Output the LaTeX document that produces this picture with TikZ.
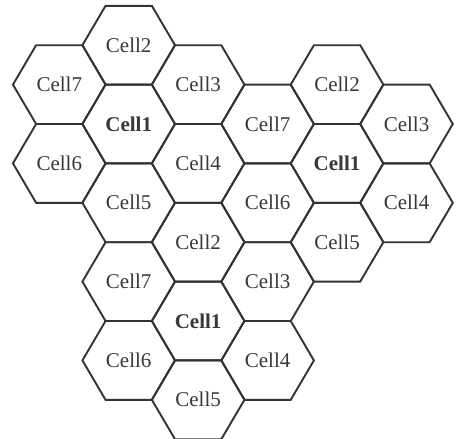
\documentclass[tikz,border=0pt]{standalone}
\usepackage{fontspec}
\setmainfont{Liberation Serif}
\begin{document}
\begin{tikzpicture}[x=1pt,y=-1pt]
\tikzset{
  hexline/.style={draw=black!80, line width=1.9pt, line join=miter},
  lbl/.style={font=\fontsize{21}{24}\selectfont, text=black!78, inner sep=0pt},
  lblb/.style={lbl, font=\fontsize{21}{24}\selectfont\bfseries}
}
\newcommand\hexcell[5]{%
  \node[#5] (#1) at ({128.7+69.45*#2},{124+39.4*#3}) {#4};
  \draw[hexline] (#1.center) ++(46.3,0) -- ++(-23.15,39.4) -- ++(-46.3,0)
     -- ++(-23.15,-39.4) -- ++(23.15,-39.4) -- ++(46.3,0) -- cycle;}
\useasboundingbox (0,0) rectangle (456,439);
% cluster A
\hexcell{a1}{0}{0}{Cell1}{lblb}
\hexcell{a2}{0}{-2}{Cell2}{lbl}
\hexcell{a3}{1}{-1}{Cell3}{lbl}
\hexcell{a4}{1}{1}{Cell4}{lbl}
\hexcell{a5}{0}{2}{Cell5}{lbl}
\hexcell{a6}{-1}{1}{Cell6}{lbl}
\hexcell{a7}{-1}{-1}{Cell7}{lbl}
% cluster B
\hexcell{b1}{3}{1}{Cell1}{lblb}
\hexcell{b2}{3}{-1}{Cell2}{lbl}
\hexcell{b3}{4}{0}{Cell3}{lbl}
\hexcell{b4}{4}{2}{Cell4}{lbl}
\hexcell{b5}{3}{3}{Cell5}{lbl}
\hexcell{b6}{2}{2}{Cell6}{lbl}
\hexcell{b7}{2}{0}{Cell7}{lbl}
% cluster C
\hexcell{c1}{1}{5}{Cell1}{lblb}
\hexcell{c2}{1}{3}{Cell2}{lbl}
\hexcell{c3}{2}{4}{Cell3}{lbl}
\hexcell{c4}{2}{6}{Cell4}{lbl}
\hexcell{c5}{1}{7}{Cell5}{lbl}
\hexcell{c6}{0}{6}{Cell6}{lbl}
\hexcell{c7}{0}{4}{Cell7}{lbl}
\end{tikzpicture}
\end{document}
